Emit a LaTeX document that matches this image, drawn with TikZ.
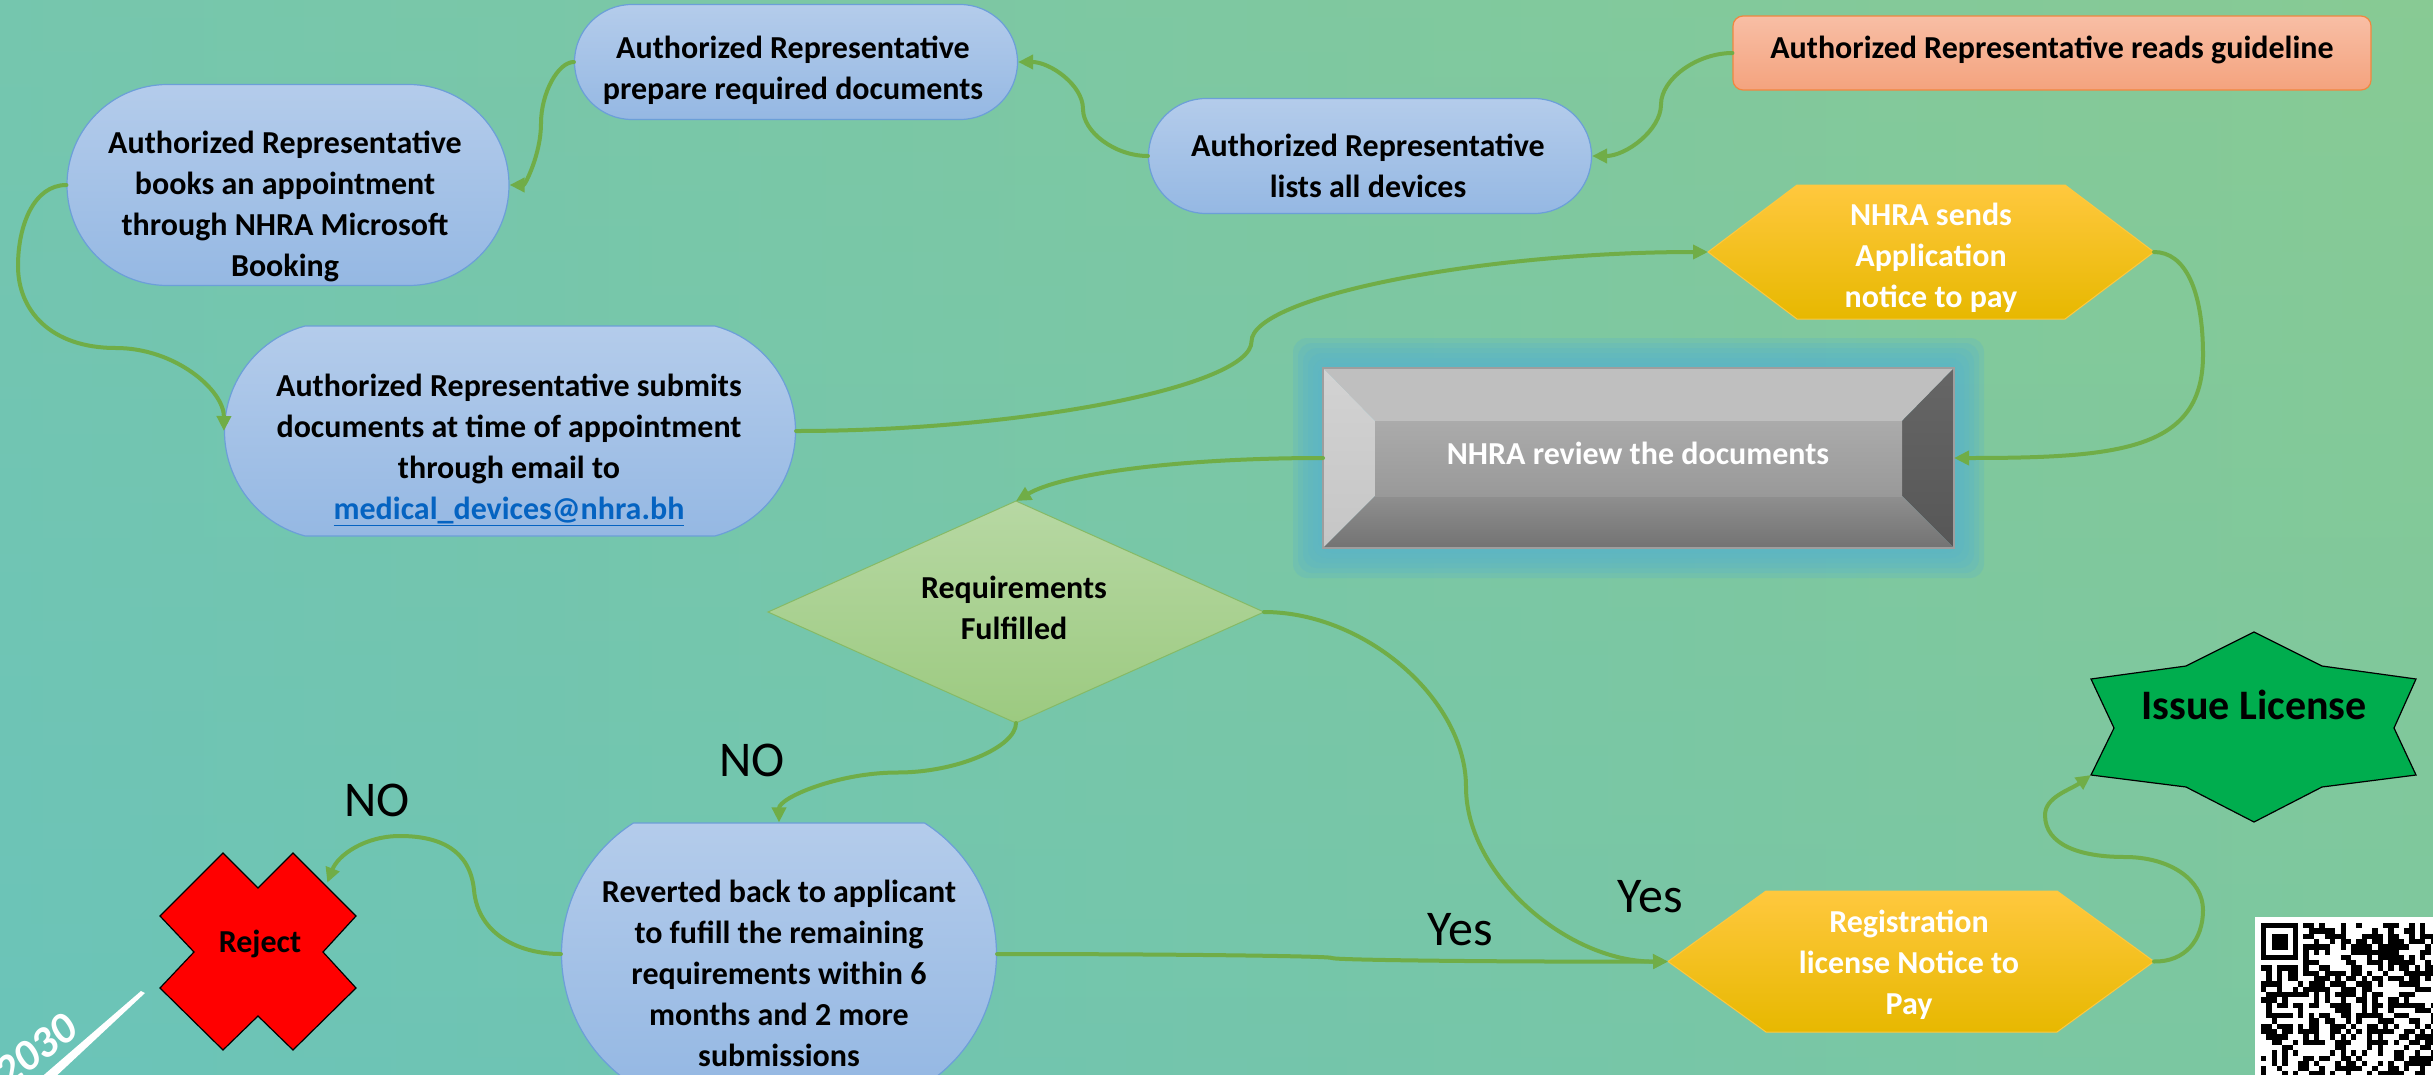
\documentclass[tikz,border=0pt]{standalone}
\usepackage{fontspec}
\setmainfont{Carlito}
\usetikzlibrary{shapes.misc,shapes.geometric,arrows.meta,calc}
\definecolor{bgL}{HTML}{6AC4BA}
\definecolor{bgR}{HTML}{86CA92}
\definecolor{bgTop}{HTML}{8CCB98}
\definecolor{bgBot}{HTML}{6DC4B8}
\definecolor{cgreen}{HTML}{70AD47}
\definecolor{blueT}{HTML}{B4CCEB}
\definecolor{blueB}{HTML}{95B8E3}
\definecolor{blueD}{HTML}{6C9FD8}
\definecolor{orT}{HTML}{F8BEA5}
\definecolor{orB}{HTML}{F4A37E}
\definecolor{orD}{HTML}{F0873F}
\definecolor{yT}{HTML}{FFC83E}
\definecolor{yB}{HTML}{E7B800}
\definecolor{gT}{HTML}{B7D8A3}
\definecolor{gB}{HTML}{9CCA80}
\definecolor{gD}{HTML}{86BA66}
\definecolor{glowc}{HTML}{5BB5C8}
\definecolor{starG}{HTML}{00AD4E}
\definecolor{mail}{HTML}{0563C1}
\begin{document}
\begin{tikzpicture}[x=1pt,y=-1pt,
  conn/.style={draw=cgreen, line width=4pt, line cap=round, -{Triangle[length=15pt,width=14pt]}},
  bluebox/.style={rounded rectangle, draw=blueD, line width=1.2pt, top color=blueT, bottom color=blueB, inner sep=0pt},
  ghost/.style={draw=none, fill=none, inner sep=0pt, outer sep=0pt},
  txt/.style={font=\bfseries\fontsize{32}{41}\selectfont, align=center, text=black, inner sep=0pt},
  wtxt/.style={txt, text=white},
  lbl/.style={font=\fontsize{50}{60}\selectfont, text=black, inner sep=0pt}
]
\useasboundingbox (0,0) rectangle (2433,1074);
\clip (0,0) rectangle (2433,1074);
% background
\shade[left color=bgL, right color=bgR] (0,0) rectangle (2433,1074);
\shade[top color=bgTop, bottom color=bgBot, opacity=0.35] (0,0) rectangle (2433,1074);

% ---------- nodes ----------
\node[rectangle, rounded corners=10pt, draw=orD, line width=1.2pt, top color=orT, bottom color=orB,
      minimum width=638pt, minimum height=74pt] (G) at (2052,53) {};
\node[bluebox, minimum width=443pt, minimum height=115pt] (L) at (1370,156) {};
\node[bluebox, minimum width=443pt, minimum height=115pt] (P) at (796,62) {};
\node[bluebox, minimum width=442pt, minimum height=201pt] (B4) at (288,185) {};
\node[bluebox, rounded rectangle arc length=150, minimum width=571pt, minimum height=210pt] (B5) at (510,431) {};
\node[bluebox, rounded rectangle arc length=115, minimum width=435pt, minimum height=262pt] (V) at (779,954) {};

% NHRA sends hexagon
\node[ghost, minimum width=446pt, minimum height=134pt] (H1) at (1931,252) {};
\shade[top color=yT, bottom color=yB, draw=yT, line width=1pt]
  (H1.west) -- ([xshift=89pt]H1.north west) -- ([xshift=-89pt]H1.north east) -- (H1.east)
  -- ([xshift=-89pt]H1.south east) -- ([xshift=89pt]H1.south west) -- cycle;

% Registration hexagon
\node[ghost, minimum width=486pt, minimum height=141pt] (H2) at (1911,961.5) {};
\shade[top color=yT, bottom color=yB, draw=yT, line width=1pt]
  (H2.west) -- ([xshift=98pt]H2.north west) -- ([xshift=-97pt]H2.north east) -- (H2.east)
  -- ([xshift=-97pt]H2.south east) -- ([xshift=98pt]H2.south west) -- cycle;

% review bevel box with glow
\foreach \e in {30,25,20,15,10,5}{
  \fill[glowc, opacity=0.28, rounded corners=14pt] (1323-\e,368-\e) rectangle (1954+\e,548+\e);
}
\node[ghost, minimum width=631pt, minimum height=180pt] (R) at (1638.5,458) {};
\fill[gray!50!white] (1323,368) -- (1954,368) -- (1902,421) -- (1375,421) -- cycle;
\shade[top color=gray!35!white, bottom color=gray!45!white] (1323,368) -- (1375,421) -- (1375,496) -- (1323,548) -- cycle;
\shade[top color=black!60, bottom color=black!66] (1954,368) -- (1954,548) -- (1902,496) -- (1902,421) -- cycle;
\shade[top color=black!44, bottom color=black!55] (1323,548) -- (1954,548) -- (1902,496) -- (1375,496) -- cycle;
\shade[top color=black!33, bottom color=black!40] (1375,421) rectangle (1902,496);
\draw[black!38, line width=1.5pt] (1323,368) rectangle (1954,548);

% decision diamond
\node[ghost, minimum width=496pt, minimum height=222pt] (D) at (1016,612) {};
\shade[top color=gT, bottom color=gB, draw=gD, line width=1pt]
  (D.west) -- (D.north) -- (D.east) -- (D.south) -- cycle;

% reject cross
\node[ghost, circle, minimum size=196pt] (X) at (258,952) {};
\draw[fill=red, draw=black, line width=1.2pt]
  (223,853) -- (258,888) -- (293,853) -- (356,916) -- (323,952) -- (356,988) -- (293,1050)
  -- (258,1016) -- (223,1050) -- (160,988) -- (194,952) -- (160,916) -- cycle;

% issue licence star
\node[ghost, minimum width=325pt, minimum height=190pt] (S) at (2253.5,727) {};
\draw[fill=starG, draw=black, line width=1.2pt]
  (2254,632) -- (2322,666) -- (2416,679) -- (2394,728) -- (2416,775) -- (2322,787) -- (2254,822)
  -- (2186,787) -- (2091,775) -- (2114,728) -- (2091,679) -- (2186,666) -- cycle;

% ---------- texts ----------
\node[txt] (tG) at (2052,50) {Authorized Representative reads guideline};
\node[txt] (tL) at (1368,166) {Authorized Representative\\lists all devices};
\node[txt] (tP) at (793,70) {Authorized Representative\\prepare required documents};
\node[txt] (tB4) at (285,206) {Authorized Representative\\books an appointment\\through NHRA Microsoft\\Booking};
\node[txt] (tB5) at (509,450) {Authorized Representative submits\\documents at time of appointment\\through email to\\{\color{mail}\underline{medical\_devices@nhra.bh}}};
\node[txt] (tV) at (779,973) {Reverted back to applicant\\to fufill the remaining\\requirements within 6\\months and 2 more\\submissions};
\node[wtxt] (tH1) at (1931,258) {NHRA sends\\Application\\notice to pay};
\node[wtxt] (tH2) at (1909,965) {Registration\\license Notice to\\Pay};
\node[wtxt] (tR) at (1638,453) {NHRA review the documents};
\node[txt] (tD) at (1014,608) {Requirements\\Fulfilled};
\node[txt] (tX) at (260,944) {Reject};
\node[txt, font=\bfseries\fontsize{42}{50}\selectfont] (tS) at (2254,705) {Issue License};

\node[lbl] (no1) at (752,760) {NO};
\node[lbl] (no2) at (377,800) {NO};
\node[lbl] (yes1) at (1460,930) {Yes};
\node[lbl] (yes2) at (1650,897) {Yes};

% ---------- connectors ----------
\draw[conn] (G.west) .. controls (1697,53) and (1661,79) .. (1661,104.5)
  .. controls (1661,130) and (1626,156) .. (L.east);
\draw[conn] (L.west) .. controls (1115,156) and (1083,132) .. (1083,109)
  .. controls (1083,85) and (1050,62) .. (P.east);
\draw[conn] (P.west) .. controls (558,62) and (541,93) .. (541,123.5)
  .. controls (541,154) and (525,185) .. (B4.east);
\draw[conn] (B4.west) .. controls (34,185) and (18,225) .. (18,266)
  .. controls (18,310) and (50,348) .. (116,348)
  .. controls (175,348) and (224,390) .. (B5.west);
\draw[conn] (B5.east) .. controls (1024,431) and (1251.5,386) .. (1251.5,341.5)
  .. controls (1251.5,297) and (1480,252) .. (H1.west);
\draw[conn] (H1.east) .. controls (2185,252) and (2203,290) .. (2203,355)
  .. controls (2203,450) and (2120,458) .. (R.east);
\draw[conn] (R.west) .. controls (1170,458) and (1060,475) .. (D.north);
\draw[conn] (D.south) .. controls (1016,747) and (956.75,772.5) .. (897.5,772.5)
  .. controls (838,772.5) and (779,797.75) .. (V.north);
\draw[conn] (V.west) .. controls (520,954) and (478,935) .. (474,890)
  .. controls (470,850) and (440,836) .. (400,836)
  .. controls (365,836) and (338,855) .. (X.45);
\draw[conn] (V.east) .. controls (1164,954) and (1332,956) .. (1332,958)
  .. controls (1332,960) and (1500,962) .. (H2.west);
\draw[conn] (D.east) .. controls (1365,612) and (1466,699.5) .. (1466,787)
  .. controls (1466,874.5) and (1567,962) .. (H2.west);
\draw[conn] (H2.east) .. controls (2185,962) and (2203,940) .. (2203,910)
  .. controls (2203,880) and (2170,857) .. (2125,857)
  .. controls (2080,857) and (2045,845) .. (2045,815)
  .. controls (2045,797) and (2070,790) .. ([yshift=47pt]S.south west);

% ---------- 2030 logo ----------
\node[text=white, rotate=37, inner sep=0pt, font=\bfseries\itshape\fontsize{44}{44}\selectfont] (logo) at (36,1050) {2030};
\fill[white] (38,1080) -- (141,991) -- (145,993) -- (52,1080) -- cycle;

% ---------- QR code ----------
\fill[white] (2255,917) rectangle (2440,1080);
\pgfmathsetseed{11}
\foreach \i in {0,...,33}{
  \foreach \j in {0,...,29}{
    \pgfmathsetmacro\rr{rnd}
    \pgfmathtruncatemacro\inF{((\i<8) && (\j<8)) ? 1 : 0}
    \ifnum\inF=0
      \ifdim\rr pt<0.5pt
        \fill[black] (2261+\i*5.3,923+\j*5.3) rectangle ++(5.3,5.3);
      \fi
    \fi
  }
}
\fill[black] (2261,923) rectangle ++(37.1,37.1);
\fill[white] (2266.3,928.3) rectangle ++(26.5,26.5);
\fill[black] (2271.6,933.6) rectangle ++(15.9,15.9);
\end{tikzpicture}
\end{document}
